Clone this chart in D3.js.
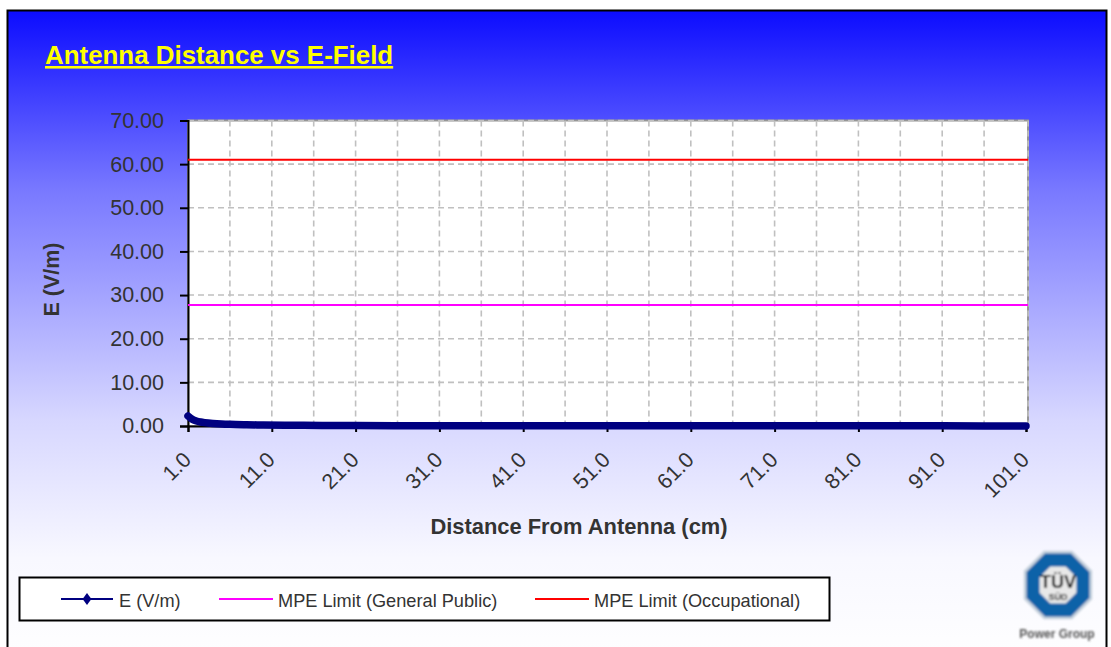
<!DOCTYPE html>
<html lang="en">

<head>
    <meta charset="UTF-8">
    <title>Antenna Distance vs E-Field</title>
    <script src="https://d3js.org/d3.v7.min.js"></script>
    <style>
        html, body { margin: 0; padding: 0; background: #fff; overflow: hidden; }
        text { font-family: "Liberation Sans", Arial, sans-serif; }
    </style>
</head>

<body>
    <div id="chart"></div>

    <script>
        // Values
        const distances = [1, 1.5, 2, 2.5, 3, 4, 5, 6, 8, 10, 13, 17, 21, 31, 41, 51, 61, 71, 81, 91, 101];
        const eField = [2.3, 1.55, 1.15, 0.92, 0.77, 0.58, 0.46, 0.38, 0.29, 0.23, 0.18, 0.14, 0.11, 0.07, 0.06, 0.05, 0.04, 0.03, 0.03, 0.03, 0.02];
        const limitGeneral = [27.7, 27.7];
        const limitOccupational = [61, 61];
        const limitDistances = [1, 101.25];
        const xTicks = [1, 11, 21, 31, 41, 51, 61, 71, 81, 91, 101];
        const xGridTicks = [6, 11, 16, 21, 26, 31, 36, 41, 46, 51, 56, 61, 66, 71, 76, 81, 86, 91, 96, 101.25];
        const yTicks = [0, 10, 20, 30, 40, 50, 60, 70];
        const legendLabels = ["E (V/m)", "MPE Limit (General Public)", "MPE Limit (Occupational)"];

        const width = 1111, height = 647;
        const plot = { left: 188, right: 1028, dataRight: 1026, top: 120.5, bottom: 426 };

        const svg = d3.select("#chart").append("svg")
            .attr("width", width)
            .attr("height", height)
            .style("display", "block");

        // Background gradient, blue fading to white
        const defs = svg.append("defs");
        const grad = defs.append("linearGradient")
            .attr("id", "bg")
            .attr("x1", 0).attr("y1", 0).attr("x2", 0).attr("y2", 1);
        grad.append("stop").attr("offset", "0%").attr("stop-color", "#0c0cff");
        grad.append("stop").attr("offset", "27%").attr("stop-color", "#7878ff");
        grad.append("stop").attr("offset", "62%").attr("stop-color", "#d7d7ff");
        grad.append("stop").attr("offset", "83%").attr("stop-color", "#f8f8ff");
        grad.append("stop").attr("offset", "100%").attr("stop-color", "#ffffff");
        defs.append("filter").attr("id", "soft")
            .append("feGaussianBlur").attr("stdDeviation", 0.8);

        svg.append("rect")
            .attr("x", 7.5).attr("y", 10.5)
            .attr("width", 1099).attr("height", 660)
            .attr("fill", "url(#bg)")
            .attr("stroke", "#000")
            .attr("stroke-width", 2);

        // Title
        svg.append("text")
            .attr("x", 45).attr("y", 64)
            .attr("font-size", 25.9)
            .attr("font-weight", "bold")
            .attr("fill", "#ffff00")
            .attr("text-decoration", "underline")
            .text("Antenna Distance vs E-Field");

        const xScale = d3.scaleLinear().domain([1, 101]).range([plot.left, plot.dataRight]);
        const yScale = d3.scaleLinear().domain([0, 70]).range([plot.bottom, plot.top]);

        // Plot area
        svg.append("rect")
            .attr("x", plot.left).attr("y", plot.top)
            .attr("width", plot.right - plot.left).attr("height", plot.bottom - plot.top)
            .attr("fill", "#fff")
            .attr("stroke", "#969696")
            .attr("stroke-width", 2);

        // Grid lines
        svg.append("g").selectAll("line")
            .data(xGridTicks)
            .join("line")
            .attr("x1", d => xScale(d)).attr("x2", d => xScale(d))
            .attr("y1", plot.top).attr("y2", plot.bottom)
            .attr("stroke", "#c0c0c0")
            .attr("stroke-width", 1.6)
            .attr("stroke-dasharray", "6,4");

        svg.append("g").selectAll("line")
            .data(yTicks.slice(1))
            .join("line")
            .attr("x1", plot.left).attr("x2", plot.right)
            .attr("y1", d => yScale(d)).attr("y2", d => yScale(d))
            .attr("stroke", "#c0c0c0")
            .attr("stroke-width", 1.6)
            .attr("stroke-dasharray", "6,4");

        // Axes
        const yAxis = svg.append("g")
            .attr("transform", "translate(" + plot.left + ",0)")
            .call(d3.axisLeft(yScale).tickValues(yTicks).tickFormat(d3.format(".2f")).tickSize(8).tickPadding(16));
        const xAxis = svg.append("g")
            .attr("transform", "translate(0," + plot.bottom + ")")
            .call(d3.axisBottom(xScale).tickValues(xTicks).tickFormat(d3.format(".1f")).tickSize(6));

        [yAxis, xAxis].forEach(a => {
            a.attr("font-family", null);
            a.selectAll("path.domain").attr("stroke", "#000").attr("stroke-width", 2);
            a.selectAll(".tick line").attr("stroke", "#000").attr("stroke-width", 2);
            a.selectAll(".tick text").attr("fill", "#333").attr("font-size", 21.5);
        });
        xAxis.selectAll(".tick text")
            .attr("text-anchor", "end")
            .attr("dy", null)
            .attr("transform", "translate(-8,47) rotate(-45) translate(17,0)")
            .attr("y", 0).attr("x", 0);

        // Series
        const limitLine = d3.line()
            .x((d, i) => xScale(limitDistances[i]))
            .y(d => yScale(d));

        svg.append("path").datum(limitGeneral)
            .attr("d", limitLine)
            .attr("fill", "none").attr("stroke", "#ff00ff").attr("stroke-width", 2);
        svg.append("path").datum(limitOccupational)
            .attr("d", limitLine)
            .attr("fill", "none").attr("stroke", "#ff0000").attr("stroke-width", 2);

        const eLine = d3.line()
            .x((d, i) => xScale(distances[i]))
            .y(d => yScale(d))
            .curve(d3.curveMonotoneX);
        svg.append("path").datum(eField)
            .attr("d", eLine)
            .attr("fill", "none").attr("stroke", "#000080").attr("stroke-width", 7.5).attr("stroke-linecap", "round");

        // Axis titles
        svg.append("text")
            .attr("x", 579).attr("y", 534)
            .attr("text-anchor", "middle")
            .attr("font-size", 21.9).attr("font-weight", "bold").attr("fill", "#333")
            .text("Distance From Antenna (cm)");
        svg.append("text")
            .attr("transform", "translate(59,279.5) rotate(-90)")
            .attr("text-anchor", "middle")
            .attr("font-size", 21.5).attr("font-weight", "bold").attr("fill", "#333")
            .text("E (V/m)");

        // Legend
        svg.append("rect")
            .attr("x", 19.5).attr("y", 577.5)
            .attr("width", 810).attr("height", 43)
            .attr("fill", "#fff").attr("stroke", "#000").attr("stroke-width", 2);

        const legendX = [61, 219, 535];
        const legendColors = ["#000080", "#ff00ff", "#ff0000"];
        const legend = svg.append("g").selectAll("g")
            .data(legendLabels)
            .join("g")
            .attr("transform", (d, i) => "translate(" + legendX[i] + ",599)");
        legend.append("line")
            .attr("x1", 0).attr("x2", (d, i) => i === 0 ? 52 : 54)
            .attr("stroke", (d, i) => legendColors[i])
            .attr("stroke-width", 2);
        legend.append("text")
            .attr("x", (d, i) => i === 0 ? 58 : 59)
            .attr("y", 8)
            .attr("font-size", 18.2).attr("fill", "#333")
            .text(d => d);
        legend.filter((d, i) => i === 0).append("path")
            .attr("transform", "translate(26,0) scale(1.3,1)")
            .attr("d", d3.symbol(d3.symbolDiamond, 40))
            .attr("fill", "#000080");

        // Logo
        const logo = svg.append("g")
            .attr("transform", "translate(1058,585)")
            .attr("filter", "url(#soft)");
        const octagon = r => d3.lineRadial().curve(d3.curveLinearClosed)(
            d3.range(8).map(i => [Math.PI / 8 + i * Math.PI / 4, r]));
        logo.append("path").attr("d", octagon(37)).attr("fill", "#c5d0dc");
        logo.append("path").attr("d", octagon(34)).attr("fill", "#0a62a8");
        logo.append("path").attr("d", octagon(20)).attr("fill", "#e8e8e8");
        logo.append("text").attr("text-anchor", "middle").attr("y", 3)
            .attr("font-size", 18).attr("font-weight", "bold").attr("fill", "#000").text("TÜV");
        logo.append("text").attr("text-anchor", "middle").attr("y", 15)
            .attr("font-size", 9).attr("font-weight", "bold").attr("fill", "#222").text("SÜD");
        svg.append("text")
            .attr("x", 1057).attr("y", 638)
            .attr("text-anchor", "middle")
            .attr("filter", "url(#soft)")
            .attr("font-size", 12).attr("font-weight", "bold").attr("fill", "#555").text("Power Group");
    </script>
</body>

</html>
